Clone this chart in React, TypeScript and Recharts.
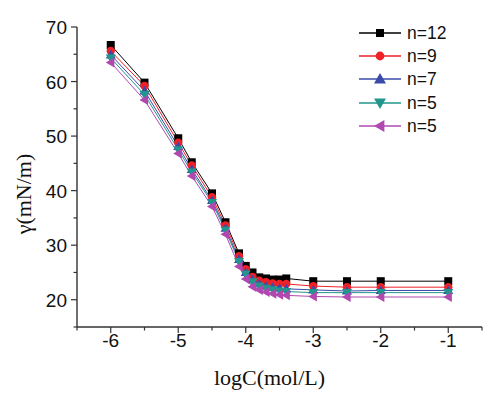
import React from 'react';
import { LineChart, Line, XAxis, YAxis } from 'recharts';

const logC = [-6, -5.5, -5, -4.8, -4.5, -4.3, -4.1, -4.0, -3.9, -3.8, -3.7, -3.6, -3.5, -3.4, -3, -2.5, -2, -1];
const n12 = [66.7, 59.8, 49.6, 45.2, 39.5, 34.2, 28.5, 26.2, 25.0, 24.1, 23.9, 23.7, 23.7, 23.9, 23.4, 23.4, 23.4, 23.4];
const n9 = [65.6, 59.2, 48.8, 44.6, 38.8, 33.6, 28.0, 25.6, 24.2, 23.5, 23.2, 23.0, 22.9, 22.9, 22.5, 22.3, 22.3, 22.3];
const n7 = [64.9, 58.3, 48.1, 43.9, 38.2, 33.1, 27.4, 25.0, 23.7, 22.9, 22.5, 22.3, 22.1, 22.0, 21.8, 21.6, 21.7, 21.7];
const n5a = [64.3, 57.6, 47.5, 43.4, 37.8, 32.7, 27.0, 24.7, 23.3, 22.5, 22.1, 21.8, 21.6, 21.5, 21.3, 21.3, 21.3, 21.3];
const n5b = [63.5, 56.6, 46.8, 42.7, 37.1, 32.0, 26.1, 23.8, 22.4, 21.8, 21.4, 21.1, 20.9, 20.8, 20.6, 20.5, 20.5, 20.5];

const seriesNames = ['n=12', 'n=9', 'n=7', 'n=5', 'n=5'];
const seriesValues = [n12, n9, n7, n5a, n5b];
const seriesColors = ['#000000', '#f02028', '#3a4aa8', '#22968c', '#b048b0'];
const seriesShapes = ['square', 'circle', 'up', 'down', 'left'];

const xTicks = [-6.5, -6, -5.5, -5, -4.5, -4, -3.5, -3, -2.5, -2, -1.5, -1, -0.5];
const yTicks = [15, 20, 25, 30, 35, 40, 45, 50, 55, 60, 65, 70];

const data = logC.map((x, i) => {
  const row: any = { x };
  seriesValues.forEach((vals, s) => {
    row['s' + s] = vals[i];
  });
  return row;
});

function Marker({ cx, cy, shape, color, r = 4.5 }: any) {
  if (cx == null || cy == null) return null;
  if (shape === 'square') {
    const h = Math.min(r * 0.9, 4);
    return <rect x={cx - h} y={cy - h} width={2 * h} height={2 * h} fill={color} />;
  }
  if (shape === 'circle') {
    return <circle cx={cx} cy={cy} r={Math.min(r * 0.93, 4.4)} fill={color} />;
  }
  if (shape === 'up') {
    return <polygon points={`${cx},${cy - r - 0.5} ${cx - r - 0.5},${cy + r * 0.8} ${cx + r + 0.5},${cy + r * 0.8}`} fill={color} />;
  }
  if (shape === 'down') {
    return <polygon points={`${cx},${cy + r + 0.5} ${cx - r - 0.5},${cy - r * 0.8} ${cx + r + 0.5},${cy - r * 0.8}`} fill={color} />;
  }
  return <polygon points={`${cx - r - 0.5},${cy} ${cx + r * 0.8},${cy - r - 0.5} ${cx + r * 0.8},${cy + r + 0.5}`} fill={color} />;
}

const TICK_SIZE = 6;
const TICK_MARGIN = 3;
const TICK_FONT = "'Liberation Sans', Arial, sans-serif";
const LABEL_FONT = "'Liberation Serif', 'Times New Roman', serif";

function XTick(props: any) {
  const { x, y, payload } = props;
  const v = payload.value;
  const major = Number.isInteger(v);
  const axisY = y - TICK_SIZE - TICK_MARGIN;
  return (
    <g>
      <line x1={x} y1={axisY} x2={x} y2={axisY + (major ? 6 : 3.5)} stroke="#333" strokeWidth={1.2} />
      {major && (
        <text x={x} y={axisY + 20} textAnchor="middle" fontFamily={TICK_FONT} fontSize={19} fill="#111">
          {v}
        </text>
      )}
    </g>
  );
}

function YTick(props: any) {
  const { x, y, payload } = props;
  const v = payload.value;
  const major = v % 10 === 0;
  const axisX = x + TICK_SIZE + TICK_MARGIN;
  return (
    <g>
      <line x1={axisX} y1={y} x2={axisX - (major ? 6 : 3.5)} y2={y} stroke="#333" strokeWidth={1.2} />
      {major && (
        <text x={axisX - 10} y={y + 7} textAnchor="end" fontFamily={TICK_FONT} fontSize={19} fill="#111">
          {v}
        </text>
      )}
    </g>
  );
}

function YLabel(props: any) {
  const vb = props.viewBox || { x: 0, y: 27, width: 77, height: 300 };
  const cx = vb.x + 31;
  const cy = vb.y + vb.height / 2 + 17;
  return (
    <text x={cx} y={cy} transform={`rotate(-90, ${cx}, ${cy})`} textAnchor="middle" fontFamily={LABEL_FONT} fontSize={22} fill="#111">
      γ(mN/m)
    </text>
  );
}

function XLabel(props: any) {
  const vb = props.viewBox || { x: 77, y: 327, width: 405, height: 71 };
  const cx = vb.x + vb.width / 2 - 10;
  const cy = vb.y + 58;
  return (
    <text x={cx} y={cy} textAnchor="middle" fontFamily={LABEL_FONT} fontSize={22} fill="#111">
      logC(mol/L)
    </text>
  );
}

function LegendBox() {
  return (
    <div style={{ position: 'absolute', left: 357, top: 21, fontFamily: TICK_FONT, fontSize: 17.5, color: '#111' }}>
      {seriesNames.map((name, i) => (
        <div key={i} style={{ display: 'flex', alignItems: 'center', height: 23.4 }}>
          <svg width={46} height={20} style={{ display: 'block' }}>
            <line x1={2} y1={10} x2={44} y2={10} stroke={seriesColors[i]} strokeWidth={1.3} />
            <Marker cx={23} cy={10} shape={seriesShapes[i]} color={seriesColors[i]} r={5.5} />
          </svg>
          <span style={{ marginLeft: 4, lineHeight: '20px' }}>{name}</span>
        </div>
      ))}
    </div>
  );
}

export default function App() {
  return (
    <div style={{ position: 'absolute', left: 0, top: 0, width: 500, height: 398, background: '#fff' }}>
      <LineChart width={500} height={398} data={data} margin={{ top: 27, right: 18, left: 0, bottom: 0 }}>
        <XAxis
          dataKey="x"
          type="number"
          domain={[-6.5, -0.5]}
          ticks={xTicks}
          interval={0}
          height={71}
          tickSize={TICK_SIZE}
          tickMargin={TICK_MARGIN}
          tickLine={false}
          axisLine={{ stroke: '#333', strokeWidth: 1.4 }}
          tick={<XTick />}
          label={<XLabel />}
        />
        <YAxis
          type="number"
          domain={[15, 70]}
          ticks={yTicks}
          interval={0}
          width={77}
          tickSize={TICK_SIZE}
          tickMargin={TICK_MARGIN}
          tickLine={false}
          axisLine={{ stroke: '#333', strokeWidth: 1.4 }}
          tick={<YTick />}
          label={<YLabel />}
        />
        {seriesNames.map((name, s) => (
          <Line
            key={s}
            dataKey={'s' + s}
            name={name}
            type="linear"
            stroke={seriesColors[s]}
            strokeWidth={1}
            isAnimationActive={false}
            dot={(p: any) => <Marker key={p.index} cx={p.cx} cy={p.cy} shape={seriesShapes[s]} color={seriesColors[s]} />}
            activeDot={false}
          />
        ))}
      </LineChart>
      <LegendBox />
    </div>
  );
}
